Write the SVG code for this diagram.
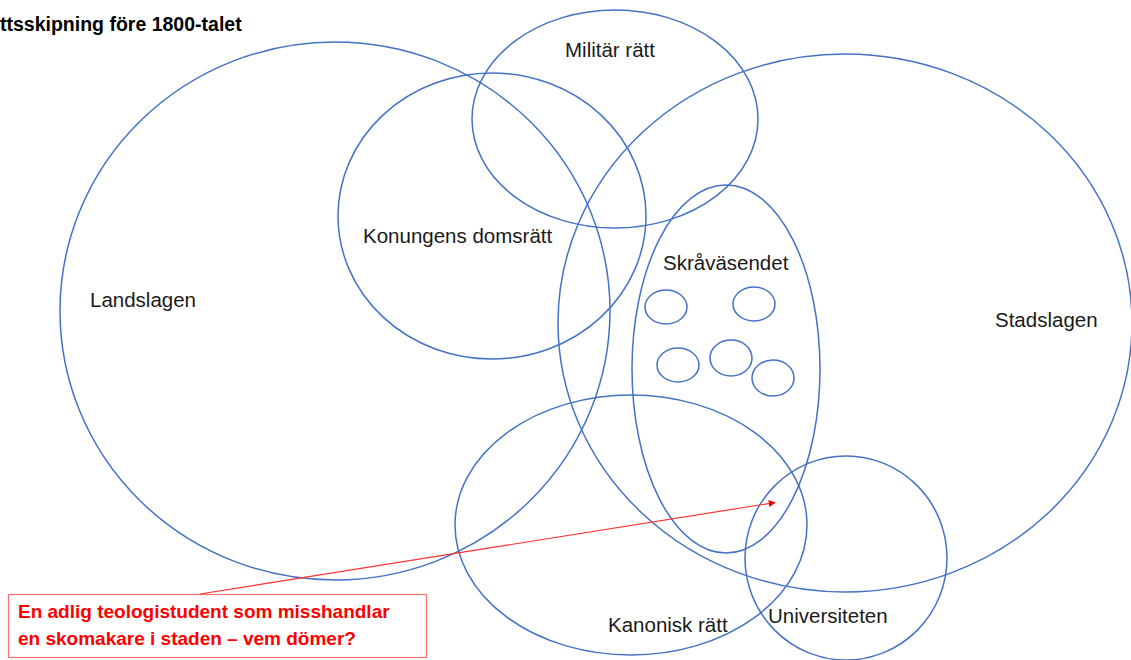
<svg xmlns="http://www.w3.org/2000/svg" width="1131" height="660" viewBox="0 0 1131 660">
<style>
.c{fill:none;stroke:#4472C4;stroke-width:1.5}
.t{font-family:"Liberation Sans",Arial,sans-serif;font-size:20.5px;fill:#1a1a1a}
.r{font-family:"Liberation Sans",Arial,sans-serif;font-size:19px;font-weight:bold;fill:#ff0000}
</style>
<defs>
<marker id="ah" viewBox="0 0 10 10" refX="9" refY="5" markerWidth="7" markerHeight="7" orient="auto" markerUnits="userSpaceOnUse">
<path d="M0,0 L10,5 L0,10 z" fill="#ff0000"/>
</marker>
</defs>
<rect width="1131" height="660" fill="#ffffff"/>
<text x="0" y="31" style="font-family:'Liberation Sans',Arial,sans-serif;font-size:19.5px;font-weight:bold;fill:#000">ttsskipning före 1800-talet</text>
<g id="landslagen"><ellipse class="c" cx="335" cy="311" rx="275" ry="269"/><text class="t" x="90" y="307">Landslagen</text></g>
<g id="konungens"><ellipse class="c" cx="492" cy="216" rx="154" ry="143"/><text class="t" x="363" y="243">Konungens domsrätt</text></g>
<g id="militar"><ellipse class="c" cx="615" cy="119" rx="143" ry="109"/><text class="t" x="565" y="57">Militär rätt</text></g>
<g id="stadslagen"><ellipse class="c" cx="845" cy="323" rx="287" ry="269"/><text class="t" x="995" y="327">Stadslagen</text></g>
<g id="skravasendet"><ellipse class="c" cx="726" cy="369" rx="94" ry="184"/><text class="t" x="663" y="270">Skråväsendet</text>
<ellipse class="c" cx="666" cy="307" rx="21" ry="17"/>
<ellipse class="c" cx="754" cy="304" rx="21" ry="17"/>
<ellipse class="c" cx="678" cy="365" rx="21" ry="17"/>
<ellipse class="c" cx="731" cy="358" rx="21" ry="18"/>
<ellipse class="c" cx="773" cy="378" rx="21" ry="18"/>
</g>
<g id="kanonisk"><ellipse class="c" cx="631" cy="525" rx="176" ry="130"/><text class="t" x="608" y="632">Kanonisk rätt</text></g>
<g id="universiteten"><ellipse class="c" cx="846" cy="558" rx="101" ry="102"/><text class="t" x="768" y="623">Universiteten</text></g>
<g id="fraga"><rect x="8.5" y="594.5" width="418" height="63" fill="#ffffff" stroke="#ff7070" stroke-width="1.2"/>
<text class="r" x="18" y="618">En adlig teologistudent som misshandlar</text>
<text class="r" x="18" y="645">en skomakare i staden – vem dömer?</text></g>
<g id="connectors"><line x1="200" y1="594" x2="775" y2="502.5" stroke="#ff3030" stroke-width="1.2" marker-end="url(#ah)"/></g>
</svg>
